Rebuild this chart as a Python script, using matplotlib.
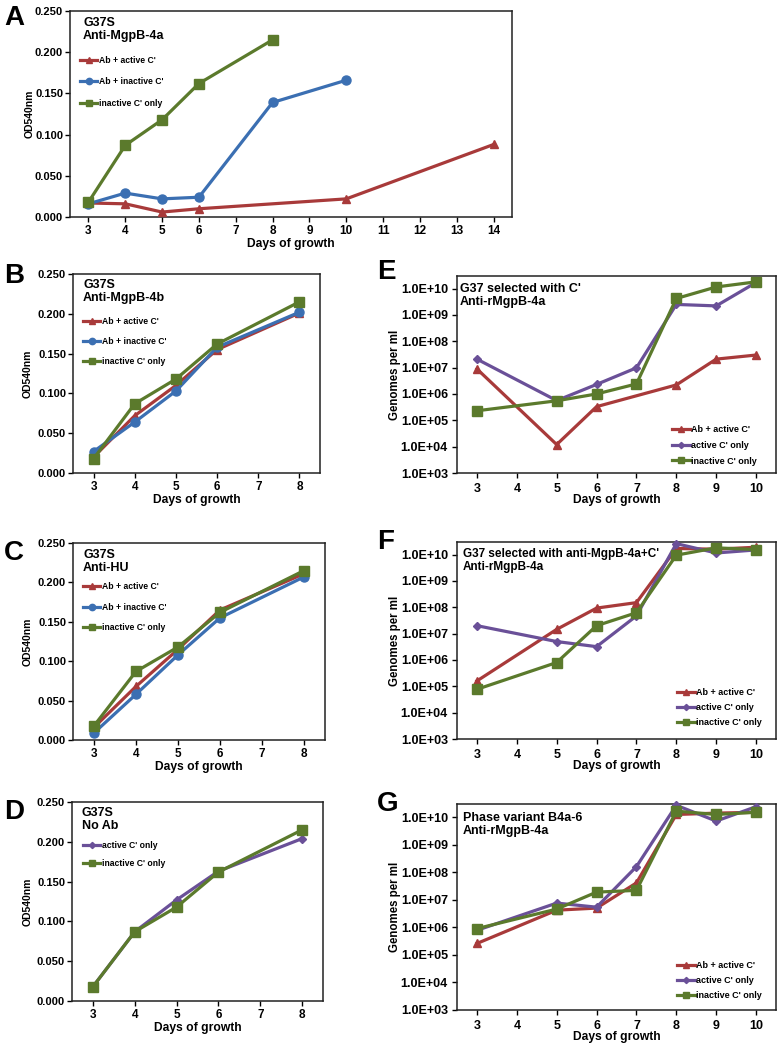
"""Seven-panel growth figure: OD540 curves (A-D) and genome counts on a log axis (E-G)."""

import matplotlib

matplotlib.use("Agg")

import matplotlib.pyplot as plt
from matplotlib.ticker import FixedLocator, FuncFormatter

plt.rcParams["font.family"] = ["Liberation Sans", "DejaVu Sans"]
plt.rcParams["font.weight"] = "bold"

W, H = 780, 1048

RED = "#a83a3a"
BLUE = "#3b6fb2"
GREEN = "#5b7a2c"
PURPLE = "#6a5098"

LBL_RED = "Ab + active C'"
LBL_BLUE = "Ab + inactive C'"
LBL_PURPLE = "active C' only"
LBL_GREEN = "inactive C' only"

# ---- panel A: G37S, Anti-MgpB-4a
days_a_red = [3, 4, 5, 6, 10, 14]
a_red = [0.017, 0.016, 0.006, 0.010, 0.022, 0.088]
days_a_blue = [3, 4, 5, 6, 8, 10]
a_blue = [0.016, 0.029, 0.022, 0.024, 0.139, 0.166]
days_a_green = [3, 4, 5, 6, 8]
a_green = [0.018, 0.087, 0.118, 0.162, 0.215]

# ---- panels B-D share the same sampling days
days_od = [3, 4, 5, 6, 8]
b_red = [0.020, 0.072, 0.110, 0.155, 0.201]
b_blue = [0.027, 0.064, 0.103, 0.158, 0.202]
b_green = [0.018, 0.087, 0.118, 0.162, 0.215]
c_red = [0.016, 0.068, 0.115, 0.165, 0.211]
c_blue = [0.009, 0.058, 0.108, 0.155, 0.207]
c_green = [0.018, 0.087, 0.118, 0.162, 0.215]
d_purple = [0.018, 0.087, 0.127, 0.163, 0.204]
d_green = [0.018, 0.087, 0.118, 0.162, 0.215]

# ---- panel E: G37 selected with C'
days_e_red = [3, 5, 6, 8, 9, 10]
e_red = [8.9e6, 1.2e4, 3.3e5, 2.2e6, 2.1e7, 3.0e7]
days_log = [3, 5, 6, 7, 8, 9, 10]
e_purple = [2.1e7, 5.6e5, 2.3e6, 9.8e6, 2.5e9, 2.2e9, 1.7e10]
e_green = [2.3e5, 5.5e5, 1.0e6, 2.4e6, 4.2e9, 1.15e10, 1.8e10]

# ---- panel F: G37 selected with anti-MgpB-4a+C'
f_red = [1.6e5, 1.45e7, 9.3e7, 1.5e8, 1.7e10, 1.6e10, 1.9e10]
f_purple = [2.0e7, 5.0e6, 3.2e6, 4.7e7, 2.6e10, 1.15e10, 1.5e10]
f_green = [7.7e4, 8.0e5, 2.0e7, 6.2e7, 9.5e9, 1.8e10, 1.55e10]

# ---- panel G: phase variant B4a-6
g_red = [2.6e5, 4.2e6, 5.0e6, 4.1e7, 1.25e10, 1.4e10, 1.5e10]
g_purple = [7.8e5, 7.6e6, 5.4e6, 1.6e8, 2.7e10, 7.2e9, 2.4e10]
g_green = [9.0e5, 4.6e6, 1.9e7, 2.2e7, 1.65e10, 1.25e10, 1.5e10]

od_ticks = [0.0, 0.05, 0.10, 0.15, 0.20, 0.25]
log_ticks = [1e3, 1e4, 1e5, 1e6, 1e7, 1e8, 1e9, 1e10]

MARK = {RED: "^", BLUE: "o", GREEN: "s", PURPLE: "D"}
MSIZE = {RED: 6, BLUE: 6.5, GREEN: 6.5, PURPLE: 4.5}

fig = plt.figure(figsize=(W / 100, H / 100), dpi=100)


def fx(px):
    return px / W


def fy(py):
    return 1 - py / H


def panel(box, letter, letter_xy, note, note_xy, note_fs=9):
    l, t, r, b = box
    ax = fig.add_axes([fx(l), fy(b), fx(r - l), (b - t) / H])
    for sp in ax.spines.values():
        sp.set_linewidth(1.1)
        sp.set_color("#222222")
    ax.tick_params(direction="out", length=3.5, width=1)
    fig.text(fx(letter_xy[0]), fy(letter_xy[1]), letter, fontsize=20,
             fontweight="bold", ha="left", va="center")
    fig.text(fx(note_xy[0]), fy(note_xy[1]), note, fontsize=note_fs,
             fontweight="bold", ha="left", va="top", linespacing=1.1)
    return ax


def series(ax, x, y, color, label):
    ax.plot(x, y, color=color, lw=2.3, marker=MARK[color], ms=MSIZE[color],
            label=label, clip_on=False, zorder=3)


def finish(ax, box, xlim, xticks, ylab, ylab_fs, ylab_x, leg_xy, leg_fs, leg_sp):
    l, t, r, b = box
    ax.set_xlim(*xlim)
    ax.set_xticks(xticks)
    ax.set_xlabel("Days of growth", fontsize=8.7, fontweight="bold")
    ax.xaxis.label.set_va("center")
    ax.xaxis.set_label_coords(0.5, -27 / (b - t))
    ax.set_ylabel(ylab, fontsize=ylab_fs, fontweight="bold")
    ax.yaxis.label.set_va("center")
    ax.yaxis.set_label_coords((ylab_x - l) / (r - l), 0.5)
    ax.legend(loc="upper left", bbox_to_anchor=(fx(leg_xy[0]), fy(leg_xy[1])),
              bbox_transform=fig.transFigure, frameon=False, fontsize=leg_fs,
              borderpad=0, borderaxespad=0, handlelength=2.0, handletextpad=0.15,
              labelspacing=leg_sp, markerscale=0.7)


def od_axis(ax):
    ax.set_ylim(0, 0.25)
    ax.yaxis.set_major_locator(FixedLocator(od_ticks))
    ax.yaxis.set_major_formatter(FuncFormatter(lambda v, _: f"{v:.3f}"))
    ax.tick_params(axis="y", labelsize=8, pad=1.5)
    ax.tick_params(axis="x", labelsize=8.5, pad=2)


def log_axis(ax):
    ax.set_yscale("log")
    ax.set_ylim(1e3, 3e10)
    ax.yaxis.set_major_locator(FixedLocator(log_ticks))
    ax.yaxis.set_minor_locator(FixedLocator([]))
    ax.yaxis.set_major_formatter(FuncFormatter(lambda v, _: f"{v:.1E}"))
    ax.tick_params(axis="y", labelsize=9, pad=3)
    ax.tick_params(axis="x", labelsize=9, pad=4)


# A
box = (70, 11, 512, 217)
ax = panel(box, "A", (4, 18), "G37S\nAnti-MgpB-4a", (83, 17))
series(ax, days_a_red, a_red, RED, LBL_RED)
series(ax, days_a_blue, a_blue, BLUE, LBL_BLUE)
series(ax, days_a_green, a_green, GREEN, LBL_GREEN)
od_axis(ax)
finish(ax, box, (2.5, 14.5), range(3, 15), "OD540nm", 7.5, 30, (80, 56), 6.2, 1.45)

# B
box = (73, 274, 320, 473)
ax = panel(box, "B", (4, 276), "G37S\nAnti-MgpB-4b", (83, 279))
series(ax, days_od, b_red, RED, LBL_RED)
series(ax, days_od, b_blue, BLUE, LBL_BLUE)
series(ax, days_od, b_green, GREEN, LBL_GREEN)
od_axis(ax)
finish(ax, box, (2.5, 8.5), range(3, 9), "OD540nm", 7.5, 28, (83, 317), 6.2, 1.25)

# C
box = (73, 543, 325, 740)
ax = panel(box, "C", (4, 553), "G37S\nAnti-HU", (83, 549))
series(ax, days_od, c_red, RED, LBL_RED)
series(ax, days_od, c_blue, BLUE, LBL_BLUE)
series(ax, days_od, c_green, GREEN, LBL_GREEN)
od_axis(ax)
finish(ax, box, (2.5, 8.5), range(3, 9), "OD540nm", 7.5, 28, (83, 582), 6.2, 1.35)

# D
box = (72, 802, 323, 1001)
ax = panel(box, "D", (4, 812), "G37S\nNo Ab", (82, 807))
series(ax, days_od, d_purple, PURPLE, LBL_PURPLE)
series(ax, days_od, d_green, GREEN, LBL_GREEN)
od_axis(ax)
finish(ax, box, (2.5, 8.5), range(3, 9), "OD540nm", 7.5, 28, (83, 841), 6.2, 1.1)

# E
box = (457, 276, 776, 473)
ax = panel(box, "E", (377, 272), "G37 selected with C'\nAnti-rMgpB-4a", (460, 283))
series(ax, days_e_red, e_red, RED, LBL_RED)
series(ax, days_log, e_purple, PURPLE, LBL_PURPLE)
series(ax, days_log, e_green, GREEN, LBL_GREEN)
log_axis(ax)
finish(ax, box, (2.5, 10.5), range(3, 11), "Genomes per ml", 8.3, 395, (672, 425), 6.5, 0.75)

# F
box = (457, 542, 776, 739)
ax = panel(box, "F", (377, 542), "G37 selected with anti-MgpB-4a+C'\nAnti-rMgpB-4a",
           (463, 548), note_fs=8.5)
series(ax, days_log, f_red, RED, LBL_RED)
series(ax, days_log, f_purple, PURPLE, LBL_PURPLE)
series(ax, days_log, f_green, GREEN, LBL_GREEN)
log_axis(ax)
finish(ax, box, (2.5, 10.5), range(3, 11), "Genomes per ml", 8.3, 395, (677, 688), 6.5, 0.65)

# G
box = (457, 804, 776, 1010)
ax = panel(box, "G", (377, 804), "Phase variant B4a-6\nAnti-rMgpB-4a", (463, 812))
series(ax, days_log, g_red, RED, LBL_RED)
series(ax, days_log, g_purple, PURPLE, LBL_PURPLE)
series(ax, days_log, g_green, GREEN, LBL_GREEN)
log_axis(ax)
finish(ax, box, (2.5, 10.5), range(3, 11), "Genomes per ml", 8.3, 395, (677, 961), 6.5, 0.65)

fig.savefig("out.png", dpi=100)
